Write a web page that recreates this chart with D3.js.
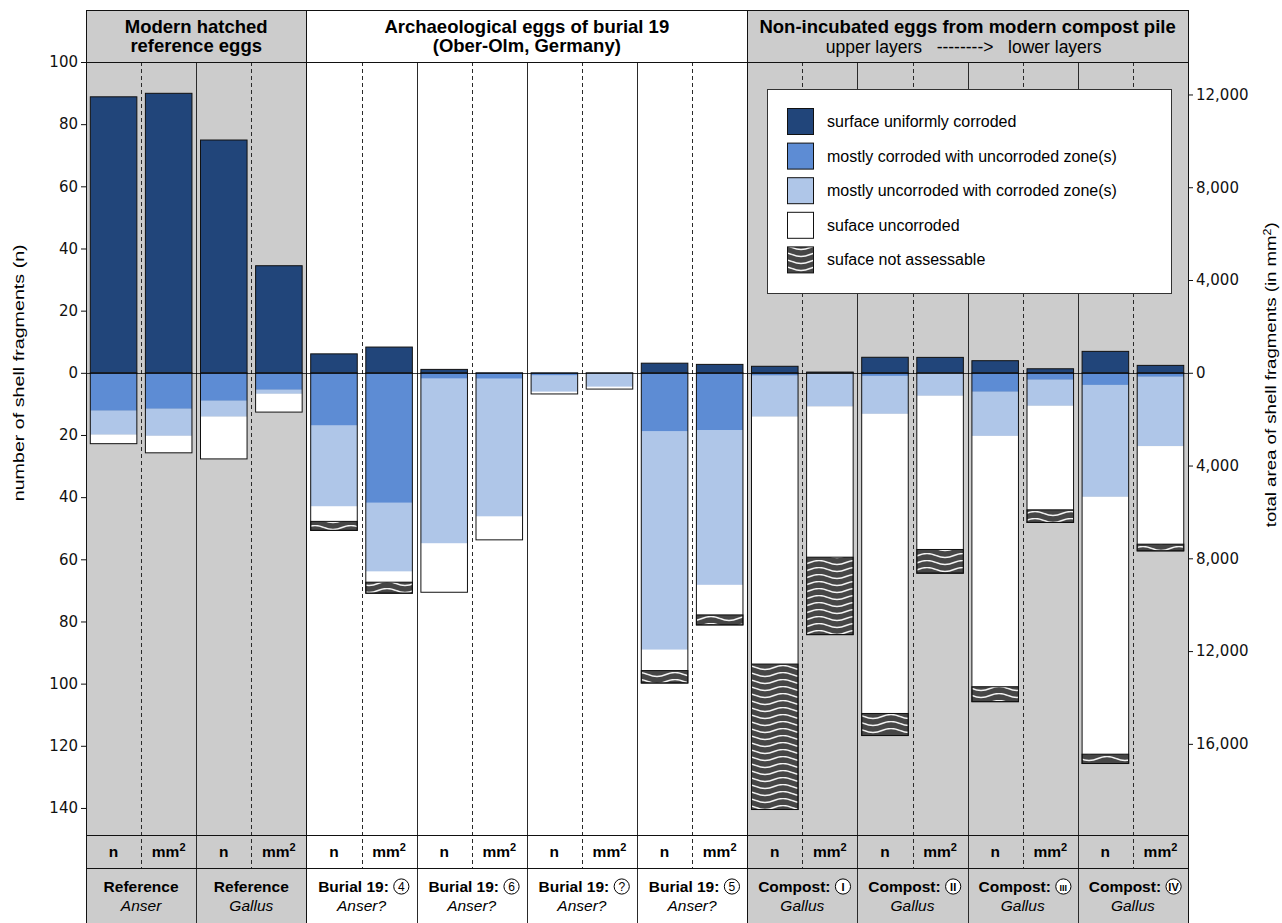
<!DOCTYPE html>
<html><head><meta charset="utf-8">
<script src="https://cdn.jsdelivr.net/npm/d3@7"></script>
<style>
body{margin:0;background:#fff;}
svg{display:block;}
text{font-family:"Liberation Sans",Arial,sans-serif;fill:#000;}
.tick text{font-family:"DejaVu Sans",sans-serif;font-size:15px;fill:#111;}
.tick line{stroke:#111;}
</style></head><body><svg id="chart" width="1282" height="923"></svg>
<script>
// ---------- data ----------
const pairNames = ["Reference","Reference","Burial 19:","Burial 19:","Burial 19:","Burial 19:","Compost:","Compost:","Compost:","Compost:"];
const pairMarks = ["","","4","6","?","5","I","II","III","IV"];
const pairTaxa  = ["Anser","Gallus","Anser?","Anser?","Anser?","Anser?","Gallus","Gallus","Gallus","Gallus"];
const measures  = ["n","mm"];
const seriesNames = ["surface uniformly corroded","mostly corroded with uncorroded zone(s)","mostly uncorroded with corroded zone(s)","suface uncorroded","suface not assessable"];

// n (left axis)
const uniformN   = [88.8, 74.9, 6.1, 1.1, 0,   3.1, 2.1, 5.0, 3.9, 6.9];
const mostCorrN  = [12.2, 9.0, 17.0, 1.9, 0.9, 18.9, 0.9, 1.0, 6.1, 3.9];
const mostUncorN = [7.7,  5.1, 26.0, 53.0, 5.2, 70.2, 13.2, 12.2, 14.2, 36.0];
const uncorrN    = [2.9, 13.6, 4.8, 15.7, 0.7, 6.7, 79.6, 96.4, 80.7, 82.8];
const notAssN    = [0,    0,   2.9, 0,   0,   4.0, 46.8, 7.1, 4.8, 3.0];
// mm² (right axis)
const uniformMM   = [12050, 4616, 1109, 0,    0,   362,  30,   664,  173,  319];
const mostCorrMM  = [1553,  733,  5608, 259,  0,   2489, 0,    0,    302,  173];
const mostUncorMM = [1165,  173,  2964, 5940, 604, 6657, 1454, 992,  1122, 2989];
const uncorrMM    = [733,   789,  457,  1005, 99,  1294, 6497, 6627, 4486, 4228];
const notAssMM    = [0,     0,    475,  0,    0,   431,  3339, 1022, 544,  289];

const leftTicks  = [100,80,60,40,20,0,-20,-40,-60,-80,-100,-120,-140];
const rightTicks = [12000,8000,4000,0,-4000,-8000,-12000,-16000];

const groupTitles = [["Modern hatched","reference eggs"],["Archaeological eggs of burial 19","(Ober-Olm, Germany)"],["Non-incubated eggs from modern compost pile"]];
const groupSub    = ["","","upper layers   -------->   lower layers"];
const groupStart  = [0,2,6];
const groupEnd    = [2,6,10];
const groupShade  = [true,false,true];

const colors = ["#21457a","#5d8cd4","#afc6e8","#ffffff","url(#waves)"];

// ---------- layout ----------
const L=86, R=1188, TOP=10, HB=62, PB=835, RS=868, BOT=923;
const svg = d3.select("#chart");
const defs = svg.append("defs");
const pat = defs.append("pattern").attr("id","waves").attr("patternUnits","userSpaceOnUse")
  .attr("width",36).attr("height",7);
pat.append("rect").attr("width",36).attr("height",7).attr("fill","#464646");
pat.append("path").attr("d","M0,2.5 Q9,6.5 18,2.5 T36,2.5").attr("fill","none").attr("stroke","#f4f4f4").attr("stroke-width",1.4);

const slotX = d3.scaleBand().domain(d3.range(20)).range([L,R]).padding(0);
const pairX = d3.scaleBand().domain(d3.range(10)).range([L,R]).padding(0);
const yL = d3.scaleLinear().domain([100,-148.7]).range([HB,PB]);
const yR = d3.scaleLinear().domain([13400,-19930]).range([HB,PB]);
const bw = slotX.bandwidth();
const crisp = v => Math.round(v)+0.5;

// backgrounds
groupStart.forEach((s,g)=>{
  const x0 = pairX(s), x1 = groupEnd[g]===10 ? R : pairX(groupEnd[g]);
  svg.append("rect").attr("x",x0).attr("y",TOP).attr("width",x1-x0).attr("height",BOT-TOP)
    .attr("fill",groupShade[g]?"#cccccc":"#ffffff");
});

// pair separators and dashed mid lines
d3.range(10).forEach(i=>{
  if(i>0 && !groupStart.includes(i)){
    svg.append("line").attr("x1",crisp(pairX(i))).attr("x2",crisp(pairX(i))).attr("y1",HB).attr("y2",BOT)
      .attr("stroke","#2a2a2a").attr("stroke-width",1);
  }
  const xm = crisp(slotX(2*i+1));
  svg.append("line").attr("x1",xm).attr("x2",xm).attr("y1",HB).attr("y2",RS)
    .attr("stroke","#2a2a2a").attr("stroke-width",1).attr("stroke-dasharray","4,3");
});

// bars
const bars = [];
d3.range(10).forEach(i=>{
  bars.push({slot:2*i, y:yL, up:uniformN[i], downs:[mostCorrN[i],mostUncorN[i],uncorrN[i],notAssN[i]]});
  bars.push({slot:2*i+1, y:yR, up:uniformMM[i], downs:[mostCorrMM[i],mostUncorMM[i],uncorrMM[i],notAssMM[i]]});
});
const bx = d => slotX(d.slot) + bw*0.078;
const bwid = bw*0.845;
const barG = svg.append("g");
bars.forEach(d=>{
  const y0 = d.y(0);
  if(d.up>0){
    barG.append("rect").attr("x",bx(d)).attr("y",d.y(d.up)).attr("width",bwid).attr("height",y0-d.y(d.up))
      .attr("fill",colors[0]).attr("stroke","#111").attr("stroke-width",1);
  }
  let cum = 0;
  d.downs.forEach((v,k)=>{
    if(v<=0) return;
    const ya = d.y(-cum), yb = d.y(-(cum+v));
    const r = barG.append("rect").attr("x",bx(d)).attr("y",ya).attr("width",bwid).attr("height",yb-ya)
      .attr("fill",colors[k+1]);
    if(k===3) r.attr("stroke","#111").attr("stroke-width",1);
    cum += v;
  });
  if(cum>0){
    barG.append("rect").attr("x",bx(d)).attr("y",y0).attr("width",bwid).attr("height",d.y(-cum)-y0)
      .attr("fill","none").attr("stroke","#111").attr("stroke-width",1);
  }
});

// zero line
svg.append("line").attr("x1",L).attr("x2",R).attr("y1",crisp(yL(0))).attr("y2",crisp(yL(0)))
  .attr("stroke","#000").attr("stroke-opacity",0.75).attr("stroke-width",1);

// frame lines
[TOP,HB,PB,RS].forEach(y=>{
  svg.append("line").attr("x1",L).attr("x2",R).attr("y1",crisp(y)).attr("y2",crisp(y)).attr("stroke","#111");
});
[pairX(0),pairX(2),pairX(6),R].forEach(x=>{
  svg.append("line").attr("x1",crisp(x)).attr("x2",crisp(x)).attr("y1",TOP).attr("y2",BOT).attr("stroke","#111");
});

// header texts
groupStart.forEach((s,g)=>{
  const x0 = pairX(s), x1 = groupEnd[g]===10 ? R : pairX(groupEnd[g]);
  const cx = (x0+x1)/2;
  groupTitles[g].forEach((t,j)=>{
    svg.append("text").attr("x",cx).attr("y",33+j*19).attr("text-anchor","middle")
      .attr("font-size","18.5px").attr("font-weight","bold").text(t);
  });
  if(groupSub[g]){
    svg.append("text").attr("x",cx-4).attr("y",53).attr("text-anchor","middle")
      .attr("font-size","17.5px").style("white-space","pre").text(groupSub[g]);
  }
});

// bottom rows
d3.range(20).forEach(s=>{
  const cx = slotX(s)+bw/2;
  const t = svg.append("text").attr("x",cx).attr("y",857).attr("text-anchor","middle")
    .attr("font-size","15.5px").attr("font-weight","bold");
  t.append("tspan").text(measures[s%2]);
  if(s%2===1) t.append("tspan").attr("dy",-6).attr("font-size","11px").text("2");
});
d3.range(10).forEach(i=>{
  const cx = pairX(i)+pairX.bandwidth()/2;
  const t = svg.append("text").attr("y",892).attr("font-size","15.5px").attr("font-weight","bold").text(pairNames[i]);
  const tw = t.node().getComputedTextLength();
  if(pairMarks[i]){
    const total = tw + 5 + 15;
    const sx = cx - total/2 + 2;
    t.attr("x",sx);
    const ccx = sx + tw + 5 + 7.5;
    svg.append("circle").attr("cx",ccx).attr("cy",886.5).attr("r",7.6).attr("fill","#fff").attr("stroke","#000").attr("stroke-width",1);
    const roman = /[IV]/.test(pairMarks[i]);
    svg.append("text").attr("x",ccx).attr("y",roman?890.5:891).attr("text-anchor","middle")
      .attr("font-size", pairMarks[i].length>2 ? "9px" : (roman ? "11px" : "12px"))
      .attr("font-weight", roman ? "bold" : "normal")
      .text(pairMarks[i]);
  } else {
    t.attr("x",cx).attr("text-anchor","middle");
  }
  svg.append("text").attr("x",cx).attr("y",911).attr("text-anchor","middle")
    .attr("font-size","15.5px").attr("font-style","italic").text(pairTaxa[i]);
});

// legend
const lg = svg.append("g");
lg.append("rect").attr("x",767.5).attr("y",89.5).attr("width",404).attr("height",204)
  .attr("fill","#fff").attr("stroke","#333").attr("stroke-width",1);
seriesNames.forEach((nm,k)=>{
  const yy = 108 + k*34.6;
  lg.append("rect").attr("x",787.5).attr("y",yy+0.5).attr("width",26).attr("height",26)
    .attr("fill",colors[k]).attr("stroke","#111").attr("stroke-width",1);
  lg.append("text").attr("x",827).attr("y",yy+19).attr("font-size","16px").text(nm);
});

// axes
const axL = svg.append("g").attr("transform",`translate(${L},0)`)
  .call(d3.axisLeft(yL).tickValues(leftTicks).tickFormat(d=>Math.abs(d)).tickSize(5).tickPadding(3));
axL.select(".domain").remove();
const axR = svg.append("g").attr("transform",`translate(${R},0)`)
  .call(d3.axisRight(yR).tickValues(rightTicks).tickFormat(d=>d3.format(",")(Math.abs(d))).tickSize(5).tickPadding(3));
axR.select(".domain").remove();

// axis titles
const y0 = yL(0);
svg.append("text").attr("transform",`translate(24,${y0}) rotate(-90)`).attr("text-anchor","middle")
  .attr("font-size","15px").attr("textLength",257).attr("lengthAdjust","spacingAndGlyphs")
  .text("number of shell fragments (n)");
const rt = svg.append("text").attr("transform",`translate(1276,${y0+2}) rotate(-90)`).attr("text-anchor","middle")
  .attr("font-size","15px").attr("textLength",305).attr("lengthAdjust","spacingAndGlyphs");
rt.append("tspan").text("total area of shell fragments (in mm");
rt.append("tspan").attr("baseline-shift","super").attr("font-size","10px").text("2");
rt.append("tspan").text(")");
</script></body></html>
